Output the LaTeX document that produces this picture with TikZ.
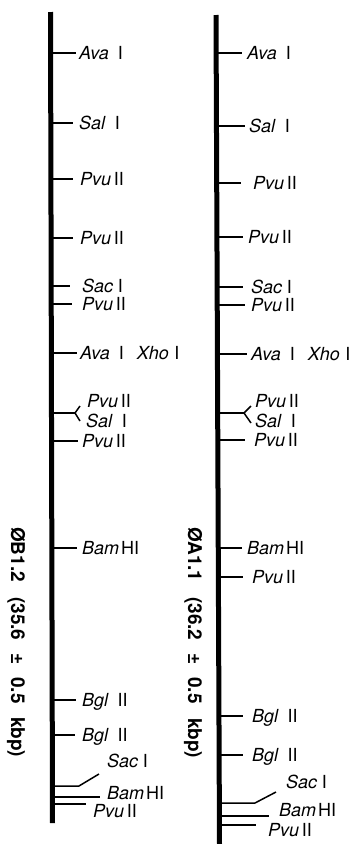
\documentclass[tikz,border=0pt]{standalone}
\usepackage{fontspec}
\setmainfont{TeX Gyre Heros}
\newcommand{\enz}[3][0.3em]{\textit{#2}\hspace{#1}#3}
\begin{document}
\begin{tikzpicture}[x=1pt,y=-1pt,
  tick/.style={line width=1.5pt},
  forkline/.style={line width=2pt},
  barline/.style={line width=5pt},
  lab/.style={anchor=base west, inner sep=0pt, yshift=-6.3pt, font=\fontsize{18}{19}\selectfont},
  vlab/.style={rotate=-90, anchor=base west, inner sep=0pt, font=\fontsize{19}{20}\selectfont\bfseries}]
\useasboundingbox (0,0) rectangle (357,844);

% ---------- left map (phage B1.2) ----------
\foreach \n/\y/\e in {a/53/76, b/123/73, c/179/73, d/238/73, e/286/70, f/304/72, g/353/77, h/441/78, i/548/77, j/700/76, k/735/75, l/797/100, m/804/86}{
  \coordinate (Ls\n) at (51,\y);
  \coordinate (Le\n) at (\e,\y);
  \draw[tick] (Ls\n) -- (Le\n);
}
% fork
\coordinate (Lfs) at (51,413);
\coordinate (Lfm) at (75,413);
\coordinate (Lfu) at (80,406);
\coordinate (Lfd) at (80,421);
\draw[forkline] (Lfs) -- (Lfm);
\draw[tick] (Lfu) -- (Lfm) -- (Lfd);
% bent SacI
\coordinate (Lbs) at (52,786);
\coordinate (Lbm) at (79,786);
\coordinate (Lbe) at (99,774);
\draw[tick] (Lbs) -- (Lbm) -- (Lbe);

\coordinate (LbarT) at (50.5,12);
\coordinate (LbarB) at (52.5,823);
\draw[barline] (LbarT) -- (LbarB);

\node[lab] (LAva1) at (79,53) {\enz[0.5em]{Ava}{I}};
\node[lab] (LSal1) at (79,123) {\enz[0.5em]{Sal}{I}};
\node[lab] (LPvu1) at (80,179) {\enz[0.15em]{Pvu}{II}};
\node[lab] (LPvu2) at (80,238) {\enz[0.15em]{Pvu}{II}};
\node[lab] (LSac1) at (82,286) {\enz[0.25em]{Sac}{I}};
\node[lab] (LPvu3) at (82,304) {\enz[0.15em]{Pvu}{II}};
\node[lab] (LAvaXho) at (80,353) {\enz[0.5em]{Ava}{I}\hspace{13pt}\enz[0.3em]{Xho}{I}};
\node[lab] (LPvu4) at (87,401) {\enz[0.15em]{Pvu}{II}};
\node[lab] (LSal2) at (86,421) {\enz[0.5em]{Sal}{I}};
\node[lab] (LPvu5) at (82,441) {\enz[0.15em]{Pvu}{II}};
\node[lab] (LBam1) at (82,548) {\enz[0.1em]{Bam}{HI}};
\node[lab] (LBgl1) at (82,700) {\enz[0.5em]{Bgl}{II}};
\node[lab] (LBgl2) at (82,735) {\enz[0.5em]{Bgl}{II}};
\node[lab] (LSac2) at (107,761) {\enz[0.25em]{Sac}{I}};
\node[lab] (LBam2) at (107,793) {\enz[0.1em]{Bam}{HI}};
\node[lab] (LPvu6) at (93,811) {\enz[0.15em]{Pvu}{II}};

\node[vlab] (Lt1) at (11,527) {ØB1.2};
\node[vlab] (Lt2) at (11,597) {(35.6};
\node[vlab] (Lt3) at (11,653) {±};
\node[vlab] (Lt4) at (11,677) {0.5};
\node[vlab] (Lt5) at (11,717) {kbp)};

% ---------- right map (phage A1.1) ----------
\foreach \n/\y/\e in {a/53/242, b/126/245, c/183/241, d/237/243, e/287/243, f/305/245, g/354/247, h/440/245, i/548/242, j/577/243, k/716/243, l/755/243, m/816/269, o/825/256}{
  \coordinate (Rs\n) at (218,\y);
  \coordinate (Re\n) at (\e,\y);
  \draw[tick] (Rs\n) -- (Re\n);
}
\coordinate (Rfs) at (218,413);
\coordinate (Rfm) at (244,413);
\coordinate (Rfu) at (251,406);
\coordinate (Rfd) at (251,423);
\draw[forkline] (Rfs) -- (Rfm);
\draw[tick] (Rfu) -- (Rfm) -- (Rfd);
\coordinate (Rbs) at (219,803);
\coordinate (Rbm) at (255,803);
\coordinate (Rbe) at (276,792);
\draw[tick] (Rbs) -- (Rbm) -- (Rbe);

\coordinate (RbarT) at (216,15);
\coordinate (RbarB) at (219.5,844);
\draw[barline] (RbarT) -- (RbarB);

\node[lab] (RAva1) at (247,53) {\enz[0.5em]{Ava}{I}};
\node[lab] (RSal1) at (249,126) {\enz[0.5em]{Sal}{I}};
\node[lab] (RPvu1) at (253,183) {\enz[0.15em]{Pvu}{II}};
\node[lab] (RPvu2) at (248,237) {\enz[0.15em]{Pvu}{II}};
\node[lab] (RSac1) at (251,287) {\enz[0.25em]{Sac}{I}};
\node[lab] (RPvu3) at (251,305) {\enz[0.15em]{Pvu}{II}};
\node[lab] (RAvaXho) at (251,354) {\enz[0.5em]{Ava}{I}\hspace{13pt}\enz[0.3em]{Xho}{I}};
\node[lab] (RPvu4) at (255,401) {\enz[0.15em]{Pvu}{II}};
\node[lab] (RSal2) at (255,421) {\enz[0.5em]{Sal}{I}};
\node[lab] (RPvu5) at (254,440) {\enz[0.15em]{Pvu}{II}};
\node[lab] (RBam1) at (247,548) {\enz[0.1em]{Bam}{HI}};
\node[lab] (RPvu6) at (252,577) {\enz[0.15em]{Pvu}{II}};
\node[lab] (RBgl1) at (252,716) {\enz[0.5em]{Bgl}{II}};
\node[lab] (RBgl2) at (252,755) {\enz[0.5em]{Bgl}{II}};
\node[lab] (RSac2) at (286,782) {\enz[0.25em]{Sac}{I}};
\node[lab] (RBam2) at (279,810) {\enz[0.1em]{Bam}{HI}};
\node[lab] (RPvu7) at (268,830) {\enz[0.15em]{Pvu}{II}};

\node[vlab] (Rt1) at (188,527) {ØA1.1};
\node[vlab] (Rt2) at (188,597) {(36.2};
\node[vlab] (Rt3) at (188,653) {±};
\node[vlab] (Rt4) at (188,677) {0.5};
\node[vlab] (Rt5) at (188,718) {kbp)};
\end{tikzpicture}
\end{document}
